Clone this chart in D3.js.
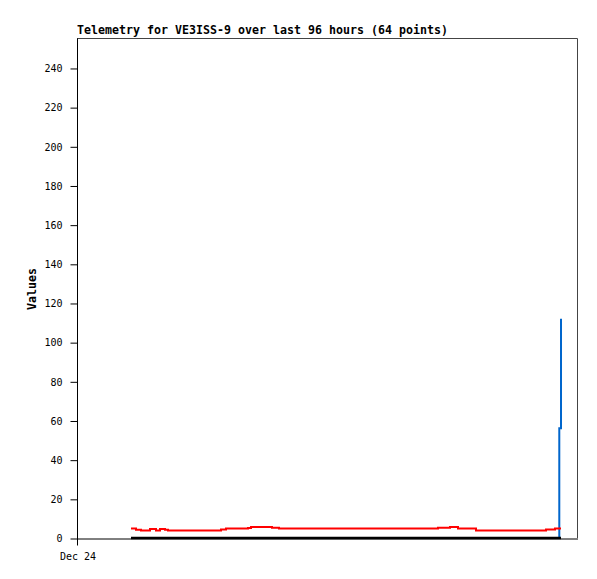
<!DOCTYPE html>
<html>
<head>
<meta charset="utf-8">
<script src="https://cdn.jsdelivr.net/npm/d3@7"></script>
<style>
  body { margin: 0; background: #fff; }
  svg { display: block; }
</style>
</head>
<body>
<svg id="telemetry-graph" width="597" height="579"></svg>
<script>
//Hours after Dec 24 00:00 for each of the 64 samples
const hours = [10.37, 11.33, 12.29, 14.02, 15.17, 15.94, 16.90, 17.47,
  18.82, 20.16, 21.50, 22.85, 24.19, 25.54, 26.69,
  27.65, 28.61, 29.95, 31.30, 32.83, 33.41, 34.75, 36.10, 37.44, 38.78,
  40.13, 41.47, 42.82, 44.16, 45.50, 46.85, 48.19, 49.54, 50.69, 52.03, 53.38,
  54.72, 56.06, 57.41, 58.75, 60.10, 61.44, 62.78, 63.94, 65.28, 66.62, 67.97,
  69.31, 71.62, 73.15, 76.61,
  77.95, 79.30, 80.64, 81.98, 83.33, 84.67, 86.02, 87.36, 88.70,
  90.05, 91.78, 92.60, 92.93];

//Telemetry channels
const redValues = [4.8, 4.2, 3.8, 4.6, 3.8, 4.6, 4.2, 3.8,
  3.8, 3.8, 3.8, 3.8, 3.8, 3.8, 3.8,
  4.4, 4.8, 4.8, 4.8, 5.1, 5.6, 5.6, 5.6, 5.2, 4.8,
  4.8, 4.8, 4.8, 4.8, 4.8, 4.8, 4.8, 4.8, 4.8, 4.8, 4.8,
  4.8, 4.8, 4.8, 4.8, 4.8, 4.8, 4.8, 4.8, 4.8, 4.8, 4.8,
  5.2, 5.6, 4.8, 3.8,
  3.8, 3.8, 3.8, 3.8, 3.8, 3.8, 3.8, 3.8, 3.8,
  4.4, 4.8, 4.8, 4.8];
const blueValues = [0, 0, 0, 0, 0, 0, 0, 0,
  0, 0, 0, 0, 0, 0, 0,
  0, 0, 0, 0, 0, 0, 0, 0, 0, 0,
  0, 0, 0, 0, 0, 0, 0, 0, 0, 0, 0,
  0, 0, 0, 0, 0, 0, 0, 0, 0, 0, 0,
  0, 0, 0, 0,
  0, 0, 0, 0, 0, 0, 0, 0, 0,
  0, 0, 56, 112];
const blackValues = [0, 0, 0, 0, 0, 0, 0, 0,
  0, 0, 0, 0, 0, 0, 0,
  0, 0, 0, 0, 0, 0, 0, 0, 0, 0,
  0, 0, 0, 0, 0, 0, 0, 0, 0, 0, 0,
  0, 0, 0, 0, 0, 0, 0, 0, 0, 0, 0,
  0, 0, 0, 0,
  0, 0, 0, 0, 0, 0, 0, 0, 0,
  0, 0, 0, 0];

//Axis ticks
const yTicks = [0, 20, 40, 60, 80, 100, 120, 140, 160, 180, 200, 220, 240];
const xTickHours = [0];
const xTickLabels = ['Dec 24'];

const titleText = 'Telemetry for VE3ISS-9 over last 96 hours (64 points)';
const yLabel = 'Values';

const startDate = new Date(2023, 11, 24, 0, 0);
const toDate = h => new Date(startDate.getTime() + h * 3600 * 1000);

const plotLeft = 77, plotTop = 38, plotW = 500, plotH = 500;
const monoFont = "'DejaVu Sans Mono', 'Liberation Mono', monospace";

var svg = d3.select('#telemetry-graph');

var x = d3.scaleTime()
    .domain([toDate(0), toDate(96)])
    .range([plotLeft, plotLeft + plotW]);

var y = d3.scaleLinear()
    .domain([0, 255.3])
    .range([plotTop + plotH, plotTop]);

//Frame: top and right grey
svg.append('path')
    .attr('d', 'M' + plotLeft + ',' + (plotTop + 0.5) + 'H' + (plotLeft + plotW + 0.5) + 'V' + (plotTop + plotH))
    .attr('fill', 'none')
    .attr('stroke', '#444')
    .attr('stroke-width', 1);

//Y axis
var yAxis = svg.append('g')
    .attr('transform', 'translate(' + (plotLeft + 0.5) + ',0.5)')
    .call(d3.axisLeft(y).tickValues(yTicks).tickSize(7).tickPadding(8).tickSizeOuter(0));
yAxis.select('.domain').attr('d', 'M0,' + plotTop + 'V' + (plotTop + plotH + 7));
yAxis.selectAll('text')
    .attr('font-family', monoFont)
    .attr('font-size', '10px')
    .attr('fill', '#000');

//X axis
var xAxis = svg.append('g')
    .attr('transform', 'translate(0.5,' + (plotTop + plotH + 0.5) + ')')
    .call(d3.axisBottom(x)
        .tickValues(xTickHours.map(toDate))
        .tickFormat((d, i) => xTickLabels[i])
        .tickSize(0)
        .tickPadding(14)
        .tickSizeOuter(0));
xAxis.selectAll('text')
    .attr('font-family', monoFont)
    .attr('font-size', '10px')
    .attr('fill', '#000');

//Series lines
function drawSeries(values, color, width) {
    var pts = hours.map((h, i) => ({t: toDate(h), v: values[i]}));
    svg.append('path')
        .datum(pts)
        .attr('fill', 'none')
        .attr('stroke', color)
        .attr('stroke-width', width)
        .attr('d', d3.line()
            .curve(d3.curveStepAfter)
            .x(d => x(d.t))
            .y(d => y(d.v)));
}

drawSeries(blueValues, '#0066cc', 2);
drawSeries(redValues, '#ff0000', 2);
drawSeries(blackValues, '#000000', 2.5);

//Title
svg.append('text')
    .attr('x', plotLeft)
    .attr('y', 34)
    .attr('font-family', monoFont)
    .attr('font-weight', 'bold')
    .attr('font-size', '11.6px')
    .attr('textLength', 371)
    .text(titleText);

//Y label
svg.append('text')
    .attr('transform', 'translate(36,289)rotate(-90)')
    .attr('text-anchor', 'middle')
    .attr('font-family', monoFont)
    .attr('font-weight', 'bold')
    .attr('font-size', '11.6px')
    .text(yLabel);
</script>
</body>
</html>
